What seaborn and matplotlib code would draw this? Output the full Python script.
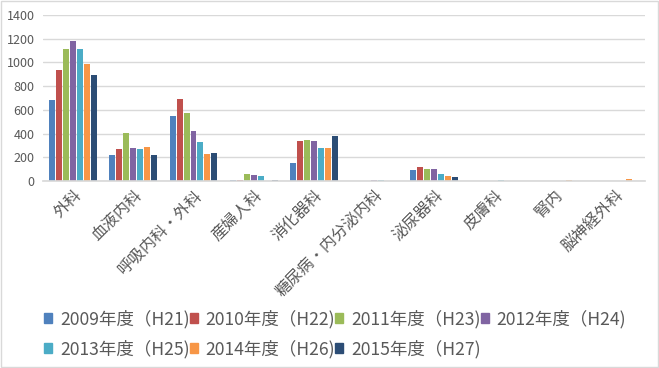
import matplotlib
matplotlib.use("Agg")
import matplotlib.pyplot as plt
import seaborn as sns
import pandas as pd
from matplotlib.patches import Rectangle

# departments (x axis)
departments = ["外科", "血液内科", "呼吸内科・外科", "産婦人科", "消化器科",
               "糖尿病・内分泌内科", "泌尿器科", "皮膚科", "腎内", "脳神経外科"]

years = ["2009年度（H21)", "2010年度（H22)", "2011年度（H23)", "2012年度（H24)",
         "2013年度（H25)", "2014年度（H26)", "2015年度（H27)"]

# values per year, in department order
v2009 = [680, 218, 545, 8, 151, 0, 92, 0, 0, 0]
v2010 = [936, 268, 688, 8, 339, 0, 118, 0, 0, 0]
v2011 = [1117, 403, 571, 59, 344, 0, 101, 0, 0, 0]
v2012 = [1181, 277, 420, 50, 336, 8, 101, 0, 0, 0]
v2013 = [1117, 268, 327, 42, 277, 8, 59, 8, 0, 0]
v2014 = [987, 285, 227, 0, 277, 0, 42, 0, 8, 17]
v2015 = [894, 218, 235, 8, 378, 0, 34, 0, 0, 0]

colors = ["#4F81BD", "#C0504D", "#9BBB59", "#8064A2", "#4BACC6", "#F79646", "#2C4D75"]

series = [v2009, v2010, v2011, v2012, v2013, v2014, v2015]
rows = []
for y, vals in zip(years, series):
    for d, v in zip(departments, vals):
        rows.append({"dept": d, "year": y, "value": v})
df = pd.DataFrame(rows)

sns.set_theme(style="white")
plt.rcParams["font.family"] = ["Noto Sans CJK JP", "DejaVu Sans"]

fig = plt.figure(figsize=(6.59, 3.68), dpi=100)
ax = fig.add_axes([43 / 659, 1 - 181 / 368, 602 / 659, 166 / 368])

sns.barplot(data=df, x="dept", y="value", hue="year", palette=colors,
            width=0.81, gap=0.14, saturation=1, linewidth=0, ax=ax, legend=False)

ax.set_ylim(0, 1400)
ax.set_yticks(range(0, 1401, 200))
ax.yaxis.grid(True, color="#D9D9D9", linewidth=1)
ax.set_axisbelow(True)
for s in ["top", "right", "left"]:
    ax.spines[s].set_visible(False)
ax.spines["bottom"].set_color("#D9D9D9")
ax.set_xlabel("")
ax.set_ylabel("")
ax.tick_params(axis="y", labelsize=9, colors="#595959", length=0, pad=6)
ax.tick_params(axis="x", labelsize=11.5, colors="#595959", length=0, pad=4)
plt.setp(ax.get_xticklabels(), rotation=45, ha="right", rotation_mode="anchor")

# legend filled row by row (4 per row)
handles = [Rectangle((0, 0), 1, 1, color=c) for c in colors]
order = [0, 4, 1, 5, 2, 6, 3]
fig.legend([handles[i] for i in order], [years[i] for i in order],
           loc="lower left", bbox_to_anchor=(37 / 659, 0.008),
           ncol=4, frameon=False, fontsize=12.6, handlelength=0.46, handleheight=0.46,
           handletextpad=0.45, columnspacing=0.0, labelcolor="#595959",
           borderaxespad=0, labelspacing=0.66)

fig.patches.append(Rectangle((0.001, 0.002), 0.997, 0.995, transform=fig.transFigure,
                             fill=False, edgecolor="#D9D9D9", linewidth=1))

fig.savefig("out.png", dpi=100)
